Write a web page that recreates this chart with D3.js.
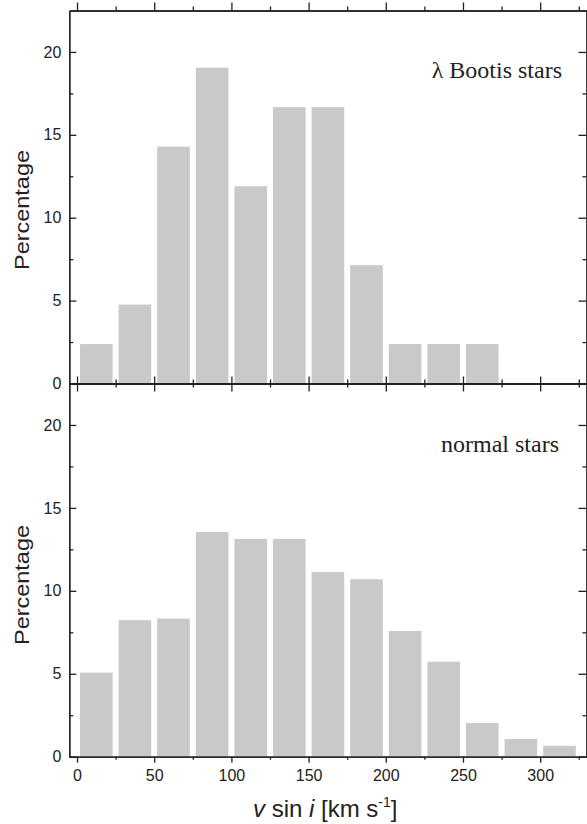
<html>
<head>
<script src="https://cdn.jsdelivr.net/npm/d3@7"></script>
<style>
    body { margin: 0; background: #fff; }
    .axis path, .axis line { stroke: #222; stroke-width: 1.3; }
    .axis text { font-family: "Liberation Sans", Arial, sans-serif; font-size: 16px; fill: #222; }
    .title { font-family: "Liberation Sans", Arial, sans-serif; fill: #222; }
    .note { font-family: "Liberation Serif", "Times New Roman", serif; font-size: 24px; fill: #222; }
</style>
</head>
<body>
<div id="chart"></div>
<script>
    // bins of v sin i, 25 km/s wide
    var binStarts = [0, 25, 50, 75, 100, 125, 150, 175, 200, 225, 250, 275, 300];
    var binWidth = 25;
    // percentage per bin
    var lambdaBoo = [2.38, 4.76, 14.29, 19.05, 11.90, 16.67, 16.67, 7.14, 2.38, 2.38, 2.38, 0, 0];
    var normalStars = [5.07, 8.23, 8.33, 13.55, 13.13, 13.13, 11.14, 10.7, 7.58, 5.73, 2.03, 1.07, 0.66];
    var xMajor = [0, 50, 100, 150, 200, 250, 300];
    var xMinor = [25, 75, 125, 175, 225, 275, 325];
    var yMajor = [0, 5, 10, 15, 20];
    var yMinor = [2.5, 7.5, 12.5, 17.5];

    var width = 587, height = 824;
    var svg = d3.select("#chart").append("svg")
        .attr("width", width)
        .attr("height", height);

    var x = d3.scaleLinear().domain([-5, 330]).range([69.3, 586.5]);
    var yTop = d3.scaleLinear().domain([0, 22.5]).range([383.5, 10.5]);
    var yBot = d3.scaleLinear().domain([0, 22.5]).range([756.7, 383.5]);

    function drawBars(values, y) {
        svg.append("g").selectAll("rect")
            .data(values)
            .enter()
            .append("rect")
            .attr("x", function (d, i) { return x(binStarts[i]) + 3; })
            .attr("width", function (d, i) { return x(binStarts[i] + binWidth) - x(binStarts[i]) - 6; })
            .attr("y", function (d) { return y(d); })
            .attr("height", function (d) { return y(0) - y(d); })
            .attr("fill", "#c8c9cb");
    }
    drawBars(lambdaBoo, yTop);
    drawBars(normalStars, yBot);

    function yAxes(y) {
        svg.append("g").attr("class", "axis")
            .attr("transform", "translate(" + x(-5) + ",0)")
            .call(d3.axisLeft(y).tickValues(yMajor).tickSizeInner(-7).tickSizeOuter(0).tickPadding(8));
        svg.append("g").attr("class", "axis")
            .attr("transform", "translate(" + x(-5) + ",0)")
            .call(d3.axisLeft(y).tickValues(yMinor).tickSizeInner(-4).tickSizeOuter(0).tickFormat(""));
        svg.append("g").attr("class", "axis")
            .attr("transform", "translate(" + x(330) + ",0)")
            .call(d3.axisRight(y).tickValues(yMajor).tickSizeInner(-8).tickSizeOuter(0).tickFormat(""));
        svg.append("g").attr("class", "axis")
            .attr("transform", "translate(" + x(330) + ",0)")
            .call(d3.axisRight(y).tickValues(yMinor).tickSizeInner(-4).tickSizeOuter(0).tickFormat(""));
    }
    yAxes(yTop);
    yAxes(yBot);

    function xAxis(yPos, major, minor, labels, pad) {
        var g = svg.append("g").attr("class", "axis")
            .attr("transform", "translate(0," + yPos + ")");
        var ax = d3.axisBottom(x).tickValues(xMajor).tickSizeInner(major).tickSizeOuter(0);
        if (labels) ax.tickPadding(pad); else ax.tickFormat("");
        g.call(ax);
        svg.append("g").attr("class", "axis")
            .attr("transform", "translate(0," + yPos + ")")
            .call(d3.axisBottom(x).tickValues(xMinor).tickSizeInner(minor).tickSizeOuter(0).tickFormat(""));
    }
    // top frame, ticks inward
    xAxis(yTop.range()[1], -8, -4, false);
    // shared middle axis, ticks both ways
    xAxis(yTop(0), -7, -4, false);
    xAxis(yTop(0), 8, 4, false);
    // bottom axis, ticks outward
    xAxis(yBot(0), 6, 3, true, 7);

    svg.selectAll(".axis .domain").attr("stroke", "#222");

    // y titles
    [[yTop, 210], [yBot, 585]].forEach(function (p) {
        svg.append("text")
            .attr("class", "title")
            .attr("transform", "translate(29," + p[1] + ") rotate(-90)")
            .attr("text-anchor", "middle")
            .attr("font-size", 21)
            .attr("textLength", 120)
            .attr("lengthAdjust", "spacingAndGlyphs")
            .text("Percentage");
    });

    // x title
    var xt = svg.append("text")
        .attr("class", "title")
        .attr("x", 253)
        .attr("y", 817)
        .attr("font-size", 24);
    xt.append("tspan").attr("font-style", "italic").text("v");
    xt.append("tspan").text(" sin ");
    xt.append("tspan").attr("font-style", "italic").text("i");
    xt.append("tspan").text(" [km s");
    xt.append("tspan").attr("font-size", 14).attr("dy", -10).text("-1");
    xt.append("tspan").attr("dy", 10).text("]");

    svg.append("text").attr("class", "note")
        .attr("x", 562).attr("y", 78)
        .attr("text-anchor", "end")
        .text("λ Bootis stars");
    svg.append("text").attr("class", "note")
        .attr("x", 559).attr("y", 452)
        .attr("text-anchor", "end")
        .text("normal stars");
</script>
</body>
</html>
